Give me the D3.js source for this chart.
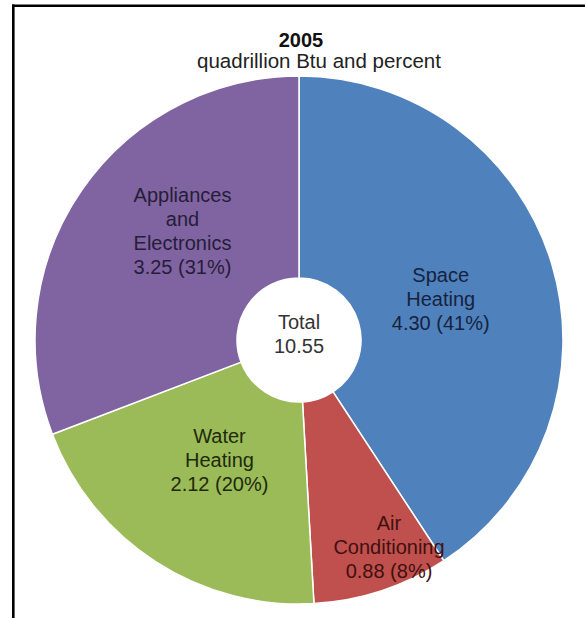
<!DOCTYPE html>
<html>
<head>
<meta charset="utf-8">
<script src="https://cdn.jsdelivr.net/npm/d3@7"></script>
<style>
body { margin: 0; background: #fff; }
svg { display: block; font-family: "Liberation Sans", Arial, sans-serif; }
</style>
</head>
<body>
<svg id="chart" width="585" height="618"></svg>
<script>
const categories = ["Space Heating", "Air Conditioning", "Water Heating", "Appliances and Electronics"];
const values = [4.30, 0.88, 2.12, 3.25];
const percents = [41, 8, 20, 31];
const labelLines = [["Space", "Heating"], ["Air", "Conditioning"], ["Water", "Heating"], ["Appliances", "and", "Electronics"]];
const totalValue = 10.55;
const title = "2005";
const subtitle = "quadrillion Btu and percent";

const sliceColors = ["#4f81bd", "#c0504d", "#9bbb59", "#8064a2"];
const textColors = ["#16233d", "#3f1010", "#202a0b", "#261d38"];
// hand tuned label nudges, like excel puts them
const nudges = [[-2, 2], [43, 65], [2, -6], [7, -24]];

const svg = d3.select("#chart");
const cx = 299, cy = 340, outerR = 264, innerR = 62;

// frame
svg.append("line").attr("x1", 13.3).attr("y1", 4.5).attr("x2", 13.3).attr("y2", 618)
    .attr("stroke", "#000").attr("stroke-width", 2.6);
svg.append("line").attr("x1", 12).attr("y1", 5.7).attr("x2", 585).attr("y2", 5.7)
    .attr("stroke", "#000").attr("stroke-width", 2.6);

svg.append("text").attr("x", 301).attr("y", 47)
    .attr("text-anchor", "middle").attr("font-size", 20).attr("font-weight", "bold")
    .attr("fill", "#111").text(title);
svg.append("text").attr("x", 319).attr("y", 68)
    .attr("text-anchor", "middle").attr("font-size", 20.5)
    .attr("fill", "#222").text(subtitle);

const data = categories.map((c, i) => ({name: c, value: values[i], pct: percents[i], i: i}));

const pie = d3.pie().sort(null).value(d => d.value);
const arc = d3.arc().innerRadius(innerR).outerRadius(outerR);
const labelArc = d3.arc().innerRadius(150).outerRadius(150);

const g = svg.append("g").attr("transform", `translate(${cx},${cy})`);

g.selectAll("path")
    .data(pie(data))
    .enter().append("path")
    .attr("d", arc)
    .attr("fill", d => sliceColors[d.data.i])
    .attr("stroke", "#fff")
    .attr("stroke-width", 1.5);

const lineH = 24;
g.selectAll("text.lbl")
    .data(pie(data))
    .enter().append("text")
    .attr("class", "lbl")
    .attr("text-anchor", "middle")
    .attr("font-size", 20)
    .attr("fill", d => textColors[d.data.i])
    .each(function(d) {
        const c = labelArc.centroid(d);
        const x = c[0] + nudges[d.data.i][0];
        const y = c[1] + nudges[d.data.i][1];
        const lines = labelLines[d.data.i].concat([`${d.data.value.toFixed(2)} (${d.data.pct}%)`]);
        const y0 = y - (lines.length - 1) * lineH / 2 + 7;
        const t = d3.select(this);
        lines.forEach((ln, k) => {
            t.append("tspan").attr("x", x).attr("y", y0 + k * lineH).text(ln);
        });
    });

const tot = g.append("text").attr("text-anchor", "middle").attr("font-size", 20).attr("fill", "#333");
tot.append("tspan").attr("x", 0).attr("y", -11).text("Total");
tot.append("tspan").attr("x", 0).attr("y", 13).text(totalValue.toFixed(2));
</script>
</body>
</html>
